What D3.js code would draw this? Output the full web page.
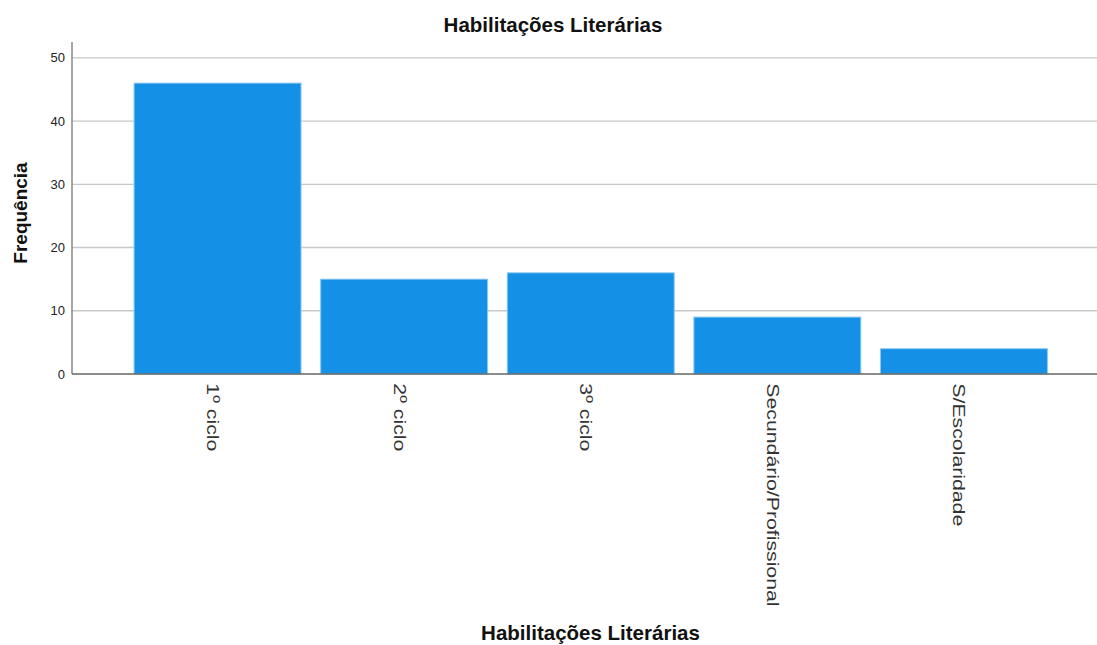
<!DOCTYPE html>
<html><head><meta charset="utf-8">
<script src="https://cdn.jsdelivr.net/npm/d3@7"></script>
<style>body{margin:0;background:#fff}svg{display:block;font-family:Arial,"Liberation Sans",sans-serif}</style>
</head><body>
<svg id="c" width="1097" height="645"></svg>
<script>
const categories = ["1º ciclo","2º ciclo","3º ciclo","Secundário/Profissional","S/Escolaridade"];
const values = [46, 15, 16, 9, 4];
const yTicks = [0,10,20,30,40,50];
const chartTitle = "Habilitações Literárias";
const xTitle = "Habilitações Literárias";
const yTitle = "Frequência";

const svg = d3.select("#c");
const W = 1097;
const x0 = 72, yBase = 374, yTop = 42;
const x = d3.scaleBand().domain(categories).range([x0, 1109.5]).paddingInner(0.1).paddingOuter(0.33);
const y = d3.scaleLinear().domain([0, 52.5]).range([yBase, yTop]);

// gridlines
svg.append("g").selectAll("line").data(yTicks.filter(d=>d>0)).join("line")
  .attr("x1", x0).attr("x2", W).attr("y1", d=>y(d)).attr("y2", d=>y(d))
  .attr("stroke", "#c8c8c8").attr("stroke-width", 1.3);

// bars
svg.append("g").selectAll("rect").data(values).join("rect")
  .attr("x", (d,i)=>x(categories[i])+0.5).attr("width", x.bandwidth()-1)
  .attr("y", d=>y(d)).attr("height", d=>yBase - y(d))
  .attr("fill", "#1490e6").attr("stroke", "#8cc8f2").attr("stroke-width", 1);

// y axis
const ya = d3.axisLeft(y).tickValues(yTicks).tickSize(0).tickPadding(7);
const gy = svg.append("g").attr("transform", `translate(${x0},0)`).call(ya);
gy.select(".domain").remove();
gy.selectAll("text").attr("font-size", 13).attr("fill", "#222").attr("font-family","Arial,'Liberation Sans',sans-serif");
svg.append("line").attr("x1", x0).attr("x2", x0).attr("y1", yTop).attr("y2", yBase).attr("stroke", "#888").attr("stroke-width", 1.5);

// x axis
const xa = d3.axisBottom(x).tickSize(0).tickPadding(0);
const gx = svg.append("g").attr("transform", `translate(0,${yBase})`).call(xa);
gx.select(".domain").remove();
gx.selectAll("text")
  .attr("transform", "rotate(90) scale(1.25,1)")
  .attr("x", 7.5).attr("y", 0).attr("dy", "0.62em")
  .attr("text-anchor", "start")
  .attr("font-size", 17).attr("fill", "#333").attr("font-family","Arial,'Liberation Sans',sans-serif");
svg.append("line").attr("x1", x0).attr("x2", W).attr("y1", yBase).attr("y2", yBase).attr("stroke", "#666").attr("stroke-width", 1.3);

// titles
svg.append("text").attr("x", 553).attr("y", 32).attr("text-anchor", "middle")
  .attr("font-weight", "bold").attr("font-size", 20.5).attr("fill", "#111").text(chartTitle);
svg.append("text").attr("x", 590.5).attr("y", 640).attr("text-anchor", "middle")
  .attr("font-weight", "bold").attr("font-size", 20.5).attr("fill", "#111").text(xTitle);
svg.append("text").attr("transform", `translate(27,213) rotate(-90)`).attr("text-anchor", "middle")
  .attr("font-weight", "bold").attr("font-size", 19).attr("fill", "#111").text(yTitle);
</script>
</body></html>
